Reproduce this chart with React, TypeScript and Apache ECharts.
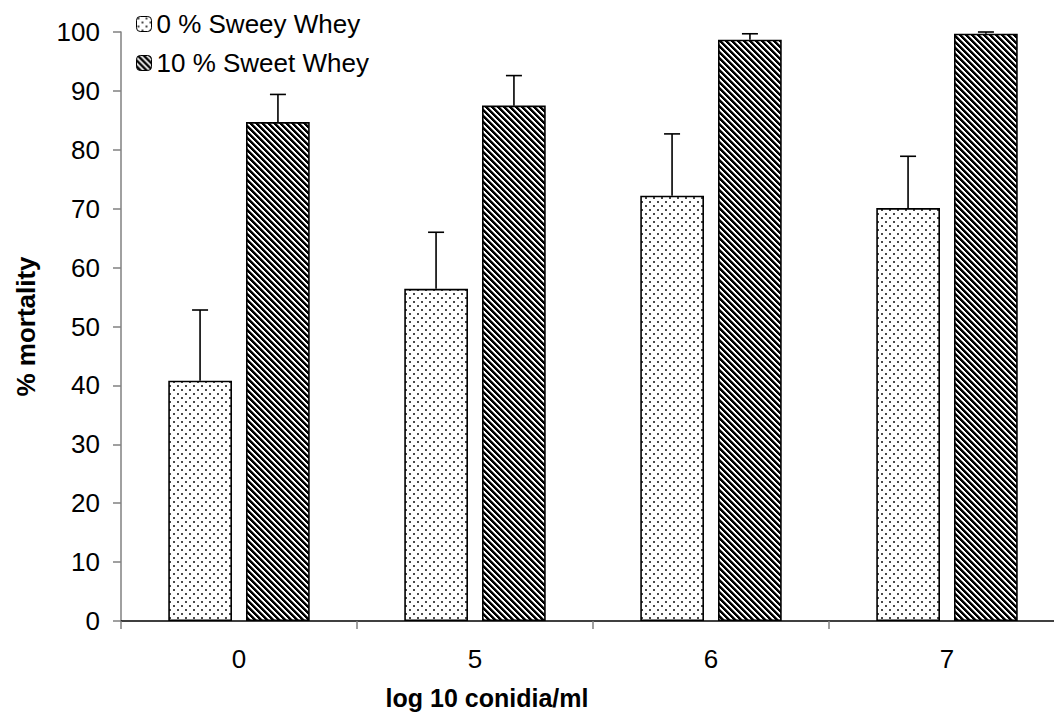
import React, { useEffect, useRef } from "react";
import * as echarts from "echarts";

const categories = ["0", "5", "6", "7"];
const sweetWhey0 = [40.8, 56.4, 72.2, 70.1];
const sweetWhey0Upper = [52.8, 66.0, 82.7, 78.9];
const sweetWhey10 = [84.7, 87.5, 98.7, 99.7];
const sweetWhey10Upper = [89.4, 92.6, 99.7, 100.0];
const yTicks = { min: 0, max: 100, interval: 10 };
const legendNames = ["0 % Sweey Whey", "10 % Sweet Whey"];

const FONT = "'Liberation Sans', Arial, sans-serif";

function dotPattern() {
  const c = document.createElement("canvas");
  c.width = 8;
  c.height = 8;
  const ctx = c.getContext("2d")!;
  ctx.fillStyle = "#ffffff";
  ctx.fillRect(0, 0, 8, 8);
  ctx.fillStyle = "#4a4a4a";
  ctx.fillRect(1, 1, 2, 2);
  ctx.fillRect(5, 5, 2, 2);
  return { image: c, repeat: "repeat", imageWidth: 8, imageHeight: 8 } as any;
}

function hatchPattern() {
  const n = 6;
  const c = document.createElement("canvas");
  c.width = n;
  c.height = n;
  const ctx = c.getContext("2d")!;
  const img = ctx.createImageData(n, n);
  for (let y = 0; y < n; y++) {
    for (let x = 0; x < n; x++) {
      const k = (((x - y) % n) + n) % n;
      const v = k < 3 ? 0 : k === 3 ? 140 : 255;
      const i = (y * n + x) * 4;
      img.data[i] = v;
      img.data[i + 1] = v;
      img.data[i + 2] = v;
      img.data[i + 3] = 255;
    }
  }
  ctx.putImageData(img, 0, 0);
  return { image: c, repeat: "repeat", imageWidth: n, imageHeight: n } as any;
}

const OFFSET_FRAC = 0.165;

function errorRender(sign: number) {
  return (params: any, api: any) => {
    const x = api.value(0);
    const lo = api.value(1);
    const hi = api.value(2);
    const p0 = api.coord([x, lo]);
    const p1 = api.coord([x, hi]);
    const band = api.size([1, 0])[0];
    const cx = p0[0] + sign * band * OFFSET_FRAC;
    const st = { stroke: "#000", lineWidth: 1.6 };
    return {
      type: "group",
      children: [
        { type: "line", shape: { x1: cx, y1: p0[1], x2: cx, y2: p1[1] }, style: st },
        { type: "line", shape: { x1: cx - 8, y1: p1[1], x2: cx + 8, y2: p1[1] }, style: st },
      ],
    };
  };
}

export default function App() {
  const ref = useRef<HTMLDivElement>(null);
  useEffect(() => {
    if (!ref.current) return;
    const chart = echarts.init(ref.current, null, { renderer: "svg" });
    const dots = dotPattern();
    const hatch = hatchPattern();
    chart.setOption({
      animation: false,
      backgroundColor: "#ffffff",
      grid: { left: 121, right: 15, top: 32, bottom: 92, containLabel: false },
      legend: {
        data: legendNames,
        orient: "vertical",
        left: 136,
        top: 11,
        padding: 0,
        itemWidth: 15,
        itemHeight: 15,
        itemGap: 13,
        itemTextGap: 7,
        itemStyle: { borderColor: "#000", borderWidth: 1 },
        textStyle: { fontSize: 26, color: "#000", fontFamily: FONT },
      },
      xAxis: {
        type: "category",
        data: categories,
        name: "log 10 conidia/ml",
        nameLocation: "middle",
        nameGap: 64,
        nameTextStyle: {
          fontSize: 25,
          fontWeight: "bold",
          color: "#000",
          fontFamily: FONT,
          padding: [0, 212, 0, 0],
        },
        axisLine: { lineStyle: { color: "#000", width: 1.5 } },
        axisTick: { show: true, length: 8, lineStyle: { color: "#808080", width: 1.5 } },
        axisLabel: { fontSize: 26, color: "#000", fontFamily: FONT, margin: 25 },
        splitLine: { show: false },
      },
      yAxis: {
        type: "value",
        min: yTicks.min,
        max: yTicks.max,
        interval: yTicks.interval,
        name: "% mortality",
        nameLocation: "middle",
        nameGap: 82,
        nameTextStyle: { fontSize: 26, fontWeight: "bold", color: "#000", fontFamily: FONT },
        axisLine: { show: true, lineStyle: { color: "#808080", width: 1.5 } },
        axisTick: { show: true, length: 8, lineStyle: { color: "#808080", width: 1.5 } },
        axisLabel: { fontSize: 26, color: "#000", fontFamily: FONT, margin: 21 },
        splitLine: { show: false },
      },
      series: [
        {
          name: legendNames[0],
          type: "bar",
          data: sweetWhey0,
          barWidth: "27%",
          barGap: "22%",
          itemStyle: { color: dots, borderColor: "#000", borderWidth: 1.6 },
        },
        {
          name: legendNames[1],
          type: "bar",
          data: sweetWhey10,
          barWidth: "27%",
          barGap: "22%",
          itemStyle: { color: hatch, borderColor: "#000", borderWidth: 1.6 },
        },
        {
          type: "custom",
          name: "err0",
          renderItem: errorRender(-1),
          data: categories.map((_, i) => [i, sweetWhey0[i], sweetWhey0Upper[i]]),
          encode: { x: 0, y: [1, 2] },
          z: 5,
        },
        {
          type: "custom",
          name: "err10",
          renderItem: errorRender(1),
          data: categories.map((_, i) => [i, sweetWhey10[i], sweetWhey10Upper[i]]),
          encode: { x: 0, y: [1, 2] },
          z: 5,
        },
      ],
    });
    return () => chart.dispose();
  }, []);
  return (
    <div style={{ width: 1054, height: 715, position: "absolute", left: 0, top: 0, overflow: "hidden" }}>
      <div ref={ref} style={{ width: 1080, height: 715, position: "absolute", left: 0, top: 0 }} />
    </div>
  );
}
